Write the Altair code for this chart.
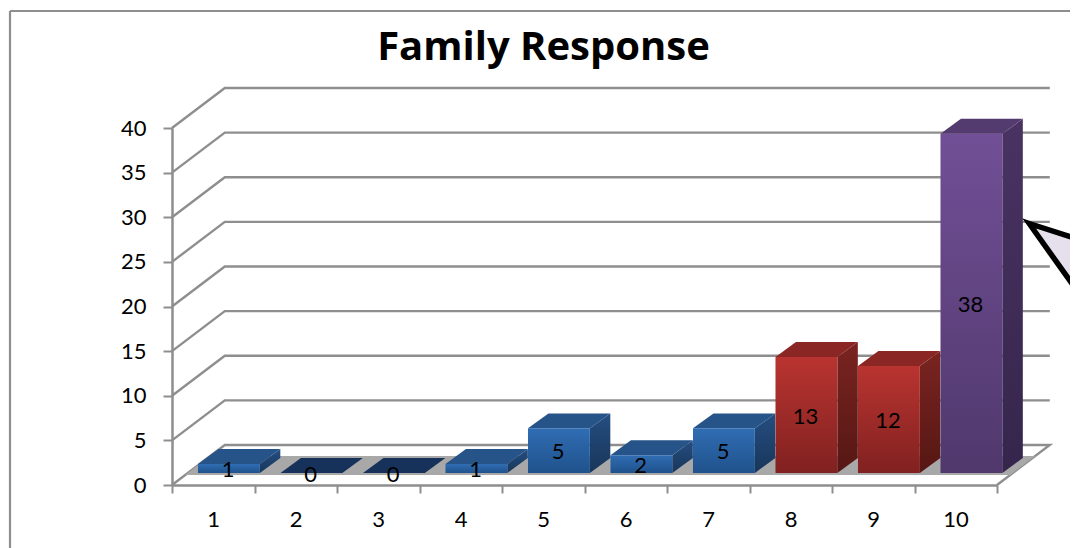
import altair as alt
import pandas as pd

categories = [1, 2, 3, 4, 5, 6, 7, 8, 9, 10]
values = [1, 0, 0, 1, 5, 2, 5, 13, 12, 38]
groups = ["blue", "blue", "blue", "blue", "blue", "blue", "blue", "red", "red", "purple"]
y_ticks = [0, 5, 10, 15, 20, 25, 30, 35, 40]
x_ticks = [0, 1, 2, 3, 4, 5, 6, 7, 8, 9, 10]

# oblique projection, in data units
WALL_DX, WALL_DY = 0.64, 4.48
BAR_LEFT, BAR_W = 0.315, 0.75
BAR_DX, BAR_DY = 0.248, 1.68
BASE = 1.345

GRID = "#8e8e8e"
STYLES = {
    "blue": dict(front=("#306db3", "#1f528c"), side=("#254e82", "#183659"), top="#265388"),
    "red": dict(front=("#b93430", "#802120"), side=("#7a2421", "#561714"), top="#8a2724"),
    "purple": dict(front=("#714f96", "#50386c"), side=("#4a3362", "#35254c"), top="#533b70"),
}
ZERO_TOP = "#17325a"

def grad(c):
    return alt.Gradient(gradient="linear", x1=0, x2=0, y1=0, y2=1,
                        stops=[alt.GradientStop(color=c[0], offset=0),
                               alt.GradientStop(color=c[1], offset=1)])

XS = alt.Scale(domain=[0, 10], nice=False, zero=False)
YS = alt.Scale(domain=[0, 40], nice=False, zero=False)
AX = alt.Axis(
    values=x_ticks, grid=False, labelExpr="datum.value < 10 ? datum.value + 1 : ''",
    labelOffset=41, labelPadding=16, labelFont="Lato", labelFontSize=22, labelColor="#000000",
    tickSize=8, tickWidth=2, tickColor=GRID, domainWidth=2.5, domainColor=GRID,
    labelFlush=False, labelOverlap=False)
AY = alt.Axis(
    values=y_ticks, grid=False, labelPadding=17, labelFont="Lato", labelFontSize=22, labelColor="#000000",
    tickSize=9, tickWidth=2, tickColor=GRID, domainWidth=2.5, domainColor=GRID)
X = lambda f="x": alt.X(f"{f}:Q", scale=XS, axis=AX, title=None)
Y = lambda f="y": alt.Y(f"{f}:Q", scale=YS, axis=AY, title=None)

bars = pd.DataFrame({"k": categories, "v": values, "g": groups})
bars["xl"] = bars["k"] - 1 + BAR_LEFT
bars["xr"] = bars["xl"] + BAR_W
bars["yb"] = BASE
bars["yt"] = BASE + bars["v"]
bars["mid"] = BASE + bars["v"] / 2 - 0.2

floor = pd.DataFrame([
    {"y": WALL_DY * t, "x": WALL_DX * t, "x2": 10 + WALL_DX * t} for t in (0.25, 0.725)
])
floor_l = alt.Chart(floor).mark_area(orient="horizontal", color="#a8a8a8").encode(
    y=Y(), x=X(), x2="x2:Q")

rows = []
for v in y_ticks:
    pts = [(0, v), (WALL_DX, v + WALL_DY), (10 + WALL_DX, v + WALL_DY)]
    if v == 0:
        pts.append((10, 0))
    for i, (a, b) in enumerate(pts):
        rows.append({"v": v, "i": i, "x": a, "y": b})
grid_l = alt.Chart(pd.DataFrame(rows)).mark_line(color=GRID, strokeWidth=2.4).encode(
    x=X(), y=Y(), detail="v:N", order="i:Q")

def bar_layers(g):
    sub = bars[bars["g"] == g]
    nz = sub[sub["v"] > 0]
    s = STYLES[g]
    side, top = [], []
    for r in nz.to_dict("records"):
        side += [{"c": r["k"], "x": r["xr"], "y": r["yt"], "y2": r["yb"]},
                 {"c": r["k"], "x": r["xr"] + BAR_DX, "y": r["yt"] + BAR_DY, "y2": r["yb"] + BAR_DY}]
    for r in sub.to_dict("records"):
        zero = bool(r["v"] == 0)
        top += [{"c": r["k"], "y": r["yt"], "x": r["xl"], "x2": r["xr"], "z": zero},
                {"c": r["k"], "y": r["yt"] + BAR_DY, "x": r["xl"] + BAR_DX, "x2": r["xr"] + BAR_DX, "z": zero}]
    top = pd.DataFrame(top)
    out = []
    out.append(alt.Chart(pd.DataFrame(side)).mark_area(color=grad(s["side"])).encode(
        x=X(), y=Y(), y2="y2:Q", detail="c:N"))
    out.append(alt.Chart(top[~top["z"]]).mark_area(orient="horizontal", color=s["top"]).encode(
        y=Y(), x=X(), x2="x2:Q", detail="c:N"))
    if top["z"].any():
        out.append(alt.Chart(top[top["z"]]).mark_area(orient="horizontal", color=ZERO_TOP).encode(
            y=Y(), x=X(), x2="x2:Q", detail="c:N"))
    out.append(alt.Chart(nz).mark_rect(color=grad(s["front"])).encode(
        x=X("xl"), x2="xr:Q", y=Y("yb"), y2="yt:Q"))
    return out

bar_l = []
for g in ["blue", "red", "purple"]:
    bar_l += bar_layers(g)

labels = alt.Chart(bars.assign(lx=bars["xl"] + BAR_W / 2 - 0.01)).mark_text(
    font="Lato", fontSize=22, color="#000000", baseline="middle", align="center").encode(
    x=X("lx"), y=Y("mid"), text="v:Q")

# callout pointer, cut by the right edge of the picture
callout = pd.DataFrame({"x": [10.39, 11.24], "y": [29.3, 26.78], "y2": [29.3, 18.26]})
callout_l = alt.Chart(callout).mark_area(
    color="#e5e0ec", stroke="#000000", strokeWidth=5.5, strokeJoin="miter").encode(
    x=X(), y=Y(), y2="y2:Q")

frame_v = alt.Chart(pd.DataFrame({"a": [0]})).mark_rule(color=GRID, strokeWidth=2.2).encode(
    x=alt.value(-162), y=alt.value(-117), y2=alt.value(460))
frame_h = alt.Chart(pd.DataFrame({"a": [0]})).mark_rule(color=GRID, strokeWidth=2.2).encode(
    x=alt.value(-162), x2=alt.value(960), y=alt.value(-117))

chart = alt.layer(frame_v, frame_h, grid_l, floor_l, *bar_l, labels, callout_l).properties(
    width=825, height=357,
    padding={"left": 164, "top": 120, "right": 73, "bottom": 63},
    autosize=alt.AutoSizeParams(type="none"),
    background="#ffffff",
    title=alt.TitleParams("Family Response", font="Open Sans", fontSize=40, fontWeight="bold",
                          color="#000000", anchor="middle", dx=-41, offset=-58),
).configure_view(stroke=None)

chart.save("out.html", embed_options={"renderer": "svg", "actions": False})
